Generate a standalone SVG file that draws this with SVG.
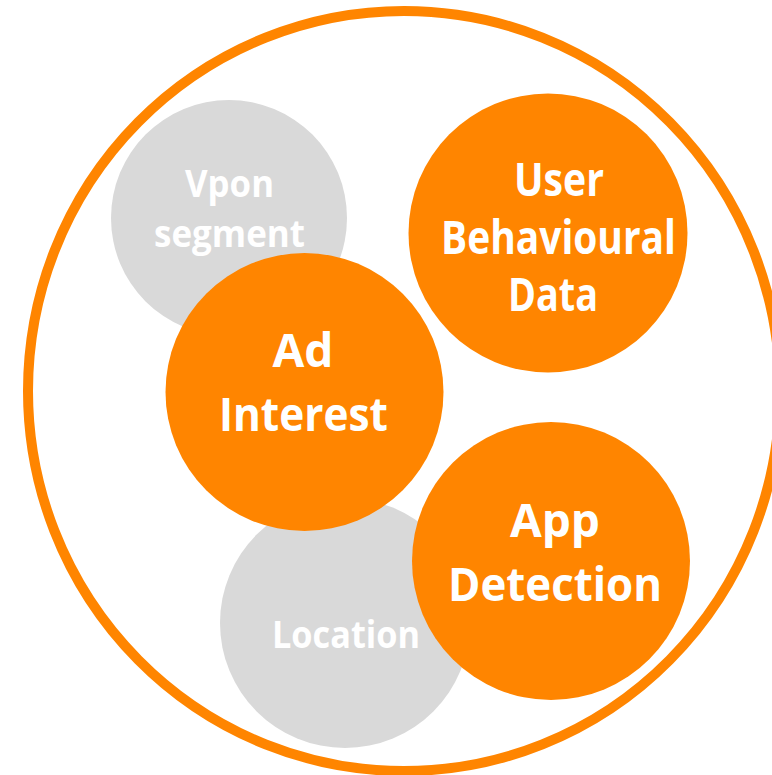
<svg xmlns="http://www.w3.org/2000/svg" width="772" height="775" viewBox="0 0 772 775">
<style>
.ring{fill:none;stroke:#FF8500;stroke-width:10}
.or{fill:#FF8500}
.gr{fill:#D9D9D9}
text{font-family:"Open Sans","Noto Sans",sans-serif;font-weight:bold;fill:#FFFFFF;text-anchor:middle}
.big{font-size:46px}
.small{font-size:37px}
</style>
<rect width="772" height="775" fill="#FFFFFF"/>
<g id="outer"><ellipse class="ring" cx="404" cy="391" rx="376" ry="380"/></g>
<g id="vpon">
<circle class="gr" cx="229" cy="218" r="118"/>
<text class="small" x="229.5" y="197" textLength="89" lengthAdjust="spacingAndGlyphs">Vpon</text>
<text class="small" x="229.5" y="247" textLength="151" lengthAdjust="spacingAndGlyphs">segment</text>
</g>
<g id="location">
<circle class="gr" cx="345" cy="623" r="125"/>
<text class="small" x="346" y="648" textLength="148" lengthAdjust="spacingAndGlyphs">Location</text>
</g>
<g id="user">
<circle class="or" cx="548" cy="233" r="139.5"/>
<text class="big" x="559" y="196" textLength="90" lengthAdjust="spacingAndGlyphs">User</text>
<text class="big" x="558.5" y="254" textLength="235" lengthAdjust="spacingAndGlyphs">Behavioural</text>
<text class="big" x="553" y="311" textLength="90" lengthAdjust="spacingAndGlyphs">Data</text>
</g>
<g id="ad">
<circle class="or" cx="304.5" cy="392" r="139"/>
<text class="big" x="303" y="367" textLength="61" lengthAdjust="spacingAndGlyphs">Ad</text>
<text class="big" x="303.5" y="431" textLength="169" lengthAdjust="spacingAndGlyphs">Interest</text>
</g>
<g id="app">
<circle class="or" cx="551" cy="561" r="139"/>
<text class="big" x="555" y="537" textLength="90" lengthAdjust="spacingAndGlyphs">App</text>
<text class="big" x="555" y="601" textLength="214" lengthAdjust="spacingAndGlyphs">Detection</text>
</g>
<g id="connectors"></g>
</svg>
